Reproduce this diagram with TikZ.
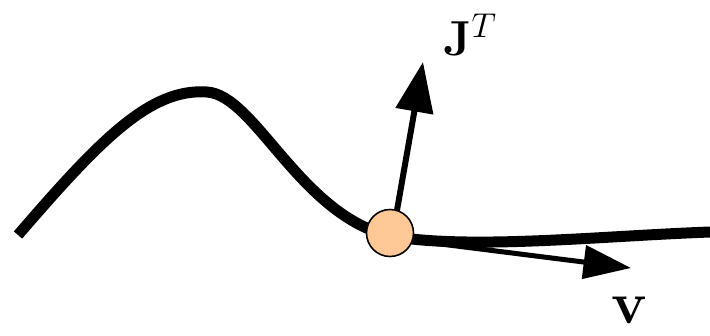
\RequirePackage{fix-cm}
\documentclass[tikz,border=0pt]{standalone}
\usepackage{amsmath,amssymb}
\usetikzlibrary{arrows.meta, positioning, calc}
\definecolor{peach}{RGB}{255,200,150}

\begin{document}
\begin{tikzpicture}[
    x=0.02cm, y=-0.02cm,
    curveline/.style={line width=0.22cm},
    pt/.style={circle, draw, line width=0.9pt, fill=peach, minimum size=0.94cm, inner sep=0pt},
    jarrow/.style={-{Triangle[length=1cm, width=0.74cm]}, line width=0.12cm},
    varrow/.style={-{Triangle[length=0.95cm, width=0.66cm]}, line width=0.1cm},
    lbl/.style={inner sep=0pt}
]
    \useasboundingbox (0,0) rectangle (710,335);

    % the curve
    \draw[curveline] (18,235) .. controls (100,140) and (150,88) .. (207,92)
        .. controls (255,95) and (300,215) .. (390,236)
        .. controls (470,250) and (600,236) .. (710,232);

    % point and vectors
    \coordinate (jtip) at (423,62);
    \coordinate (vtip) at (631,268);
    \draw[jarrow] (393,233) -- (jtip);
    \draw[varrow] (393,238) -- (vtip);
    \node[pt] (p) at (390,233) {};

    \node[lbl, font=\fontsize{28}{32}\selectfont] (jt) at (470,35) {$\mathbf{J}^T$};
    \node[lbl, font=\fontsize{34}{40}\selectfont] (v) at (630,310) {$\mathbf{v}$};
\end{tikzpicture}
\end{document}
